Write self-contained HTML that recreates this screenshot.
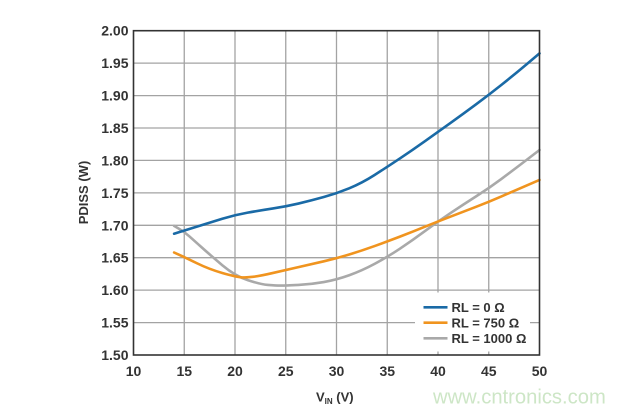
<!DOCTYPE html>
<html>
<head>
<meta charset="utf-8">
<style>
  html, body { margin:0; padding:0; background:#ffffff; }
  body { width:617px; height:413px; overflow:hidden; }
  svg { display:block; }
  text { font-family:"Liberation Sans", Arial, sans-serif; }
</style>
</head>
<body>
<svg width="617" height="413" viewBox="0 0 617 413" xmlns="http://www.w3.org/2000/svg">
  <rect x="0" y="0" width="617" height="413" fill="#ffffff"/>

  <!-- grid -->
  <g stroke="#a3a3a3" stroke-width="1.3" fill="none">
    <line x1="184.25" y1="30.7" x2="184.25" y2="355"/>
    <line x1="235" y1="30.7" x2="235" y2="355"/>
    <line x1="285.75" y1="30.7" x2="285.75" y2="355"/>
    <line x1="336.5" y1="30.7" x2="336.5" y2="355"/>
    <line x1="387.25" y1="30.7" x2="387.25" y2="355"/>
    <line x1="438" y1="30.7" x2="438" y2="355"/>
    <line x1="488.75" y1="30.7" x2="488.75" y2="355"/>
    <line x1="133.5" y1="63.1" x2="539.5" y2="63.1"/>
    <line x1="133.5" y1="95.6" x2="539.5" y2="95.6"/>
    <line x1="133.5" y1="128.0" x2="539.5" y2="128.0"/>
    <line x1="133.5" y1="160.4" x2="539.5" y2="160.4"/>
    <line x1="133.5" y1="192.9" x2="539.5" y2="192.9"/>
    <line x1="133.5" y1="225.3" x2="539.5" y2="225.3"/>
    <line x1="133.5" y1="257.7" x2="539.5" y2="257.7"/>
    <line x1="133.5" y1="290.1" x2="539.5" y2="290.1"/>
    <line x1="133.5" y1="322.6" x2="539.5" y2="322.6"/>
  </g>

  <!-- legend background -->
  <rect x="415" y="292.5" width="115" height="59" fill="#ffffff"/>

  <!-- series -->
  <g fill="none" stroke-width="2.6" stroke-linejoin="round" stroke-linecap="round">
    <path stroke="#a9a9a9" d="M174.1,225.9 L179.18,228.85 Q184.25,231.8 189.33,236.3 Q194.4,240.8 202.0,247.65 Q209.6,254.5 222.3,265.2 Q235,275.9 247.7,280.1 Q260.4,284.3 268.0,284.95 Q275.6,285.6 280.68,285.6 Q285.75,285.6 298.43,284.95 Q311.1,284.3 323.8,282.05 Q336.5,279.8 349.2,275.25 Q361.9,270.7 374.58,263.9 Q387.25,257.1 399.93,248.65 Q412.6,240.2 425.3,230.8 Q438,221.4 450.7,212.95 Q463.4,204.5 476.08,196.4 Q488.75,188.3 501.43,178.9 Q514.1,169.5 526.8,159.75 L539.5,150.0"/>
    <path stroke="#f0941f" d="M174.1,252.5 L179.18,254.8 Q184.25,257.1 196.93,263.25 Q209.6,269.4 222.3,272.95 Q235,276.5 240.08,277.15 Q245.15,277.8 252.78,276.85 Q260.4,275.9 273.08,272.95 Q285.75,270.0 298.43,267.1 Q311.1,264.2 323.8,261.3 Q336.5,258.4 349.2,254.5 Q361.9,250.6 374.58,246.05 Q387.25,241.5 399.93,236.65 Q412.6,231.8 425.3,226.6 Q438,221.4 450.7,216.55 Q463.4,211.7 476.08,206.8 Q488.75,201.9 501.43,196.4 Q514.1,190.9 526.8,185.4 L539.5,179.9"/>
    <path stroke="#1a6aa6" d="M174.1,233.7 L179.18,232.1 Q184.25,230.5 196.93,226.6 Q209.6,222.7 222.3,218.8 Q235,214.9 247.7,212.65 Q260.4,210.4 273.08,208.45 Q285.75,206.5 298.43,203.55 Q311.1,200.6 323.8,197.05 Q336.5,193.5 349.2,188.3 Q361.9,183.1 374.58,175.0 Q387.25,166.9 399.93,158.45 Q412.6,150.0 425.3,140.95 Q438,131.9 450.7,122.8 Q463.4,113.7 476.08,104.3 Q488.75,94.9 501.43,84.85 Q514.1,74.8 526.8,64.1 L539.5,53.4"/>
  </g>

  <!-- frame -->
  <rect x="133.5" y="30.7" width="406" height="324.3" fill="none" stroke="#333333" stroke-width="1.6"/>

  <!-- y tick labels -->
  <g font-size="14" font-weight="bold" fill="#333333" text-anchor="end">
    <text x="128.5" y="35.7">2.00</text>
    <text x="128.5" y="68.1">1.95</text>
    <text x="128.5" y="100.6">1.90</text>
    <text x="128.5" y="133.0">1.85</text>
    <text x="128.5" y="165.4">1.80</text>
    <text x="128.5" y="197.9">1.75</text>
    <text x="128.5" y="230.3">1.70</text>
    <text x="128.5" y="262.7">1.65</text>
    <text x="128.5" y="295.1">1.60</text>
    <text x="128.5" y="327.6">1.55</text>
    <text x="128.5" y="360.0">1.50</text>
  </g>

  <!-- x tick labels -->
  <g font-size="14" font-weight="bold" fill="#333333" text-anchor="middle">
    <text x="133.5" y="376">10</text>
    <text x="184.25" y="376">15</text>
    <text x="235" y="376">20</text>
    <text x="285.75" y="376">25</text>
    <text x="336.5" y="376">30</text>
    <text x="387.25" y="376">35</text>
    <text x="438" y="376">40</text>
    <text x="488.75" y="376">45</text>
    <text x="539.5" y="376">50</text>
  </g>

  <!-- axis titles -->
  <text x="0" y="0" font-size="13" font-weight="bold" fill="#333333" text-anchor="middle" transform="translate(88,192.5) rotate(-90)">PDISS (W)</text>
  <text x="316" y="401.5" font-size="13" font-weight="bold" fill="#333333">V<tspan font-size="8" dy="2.5">IN</tspan><tspan dy="-2.5"> (V)</tspan></text>

  <!-- legend -->
  <g stroke-width="2.6" stroke-linecap="butt">
    <line x1="423.5" y1="307.3" x2="447.5" y2="307.3" stroke="#1a6aa6"/>
    <line x1="423.5" y1="322.7" x2="447.5" y2="322.7" stroke="#f0941f"/>
    <line x1="423.5" y1="338.3" x2="447.5" y2="338.3" stroke="#a9a9a9"/>
  </g>
  <g font-size="13" font-weight="bold" fill="#333333">
    <text x="451.5" y="312">RL = 0 Ω</text>
    <text x="451.5" y="327.4">RL = 750 Ω</text>
    <text x="451.5" y="343">RL = 1000 Ω</text>
  </g>

  <!-- watermark -->
  <text x="433" y="403.3" font-size="20.2" fill="#cde6c6">www.cntronics.com</text>
</svg>
</body>
</html>
